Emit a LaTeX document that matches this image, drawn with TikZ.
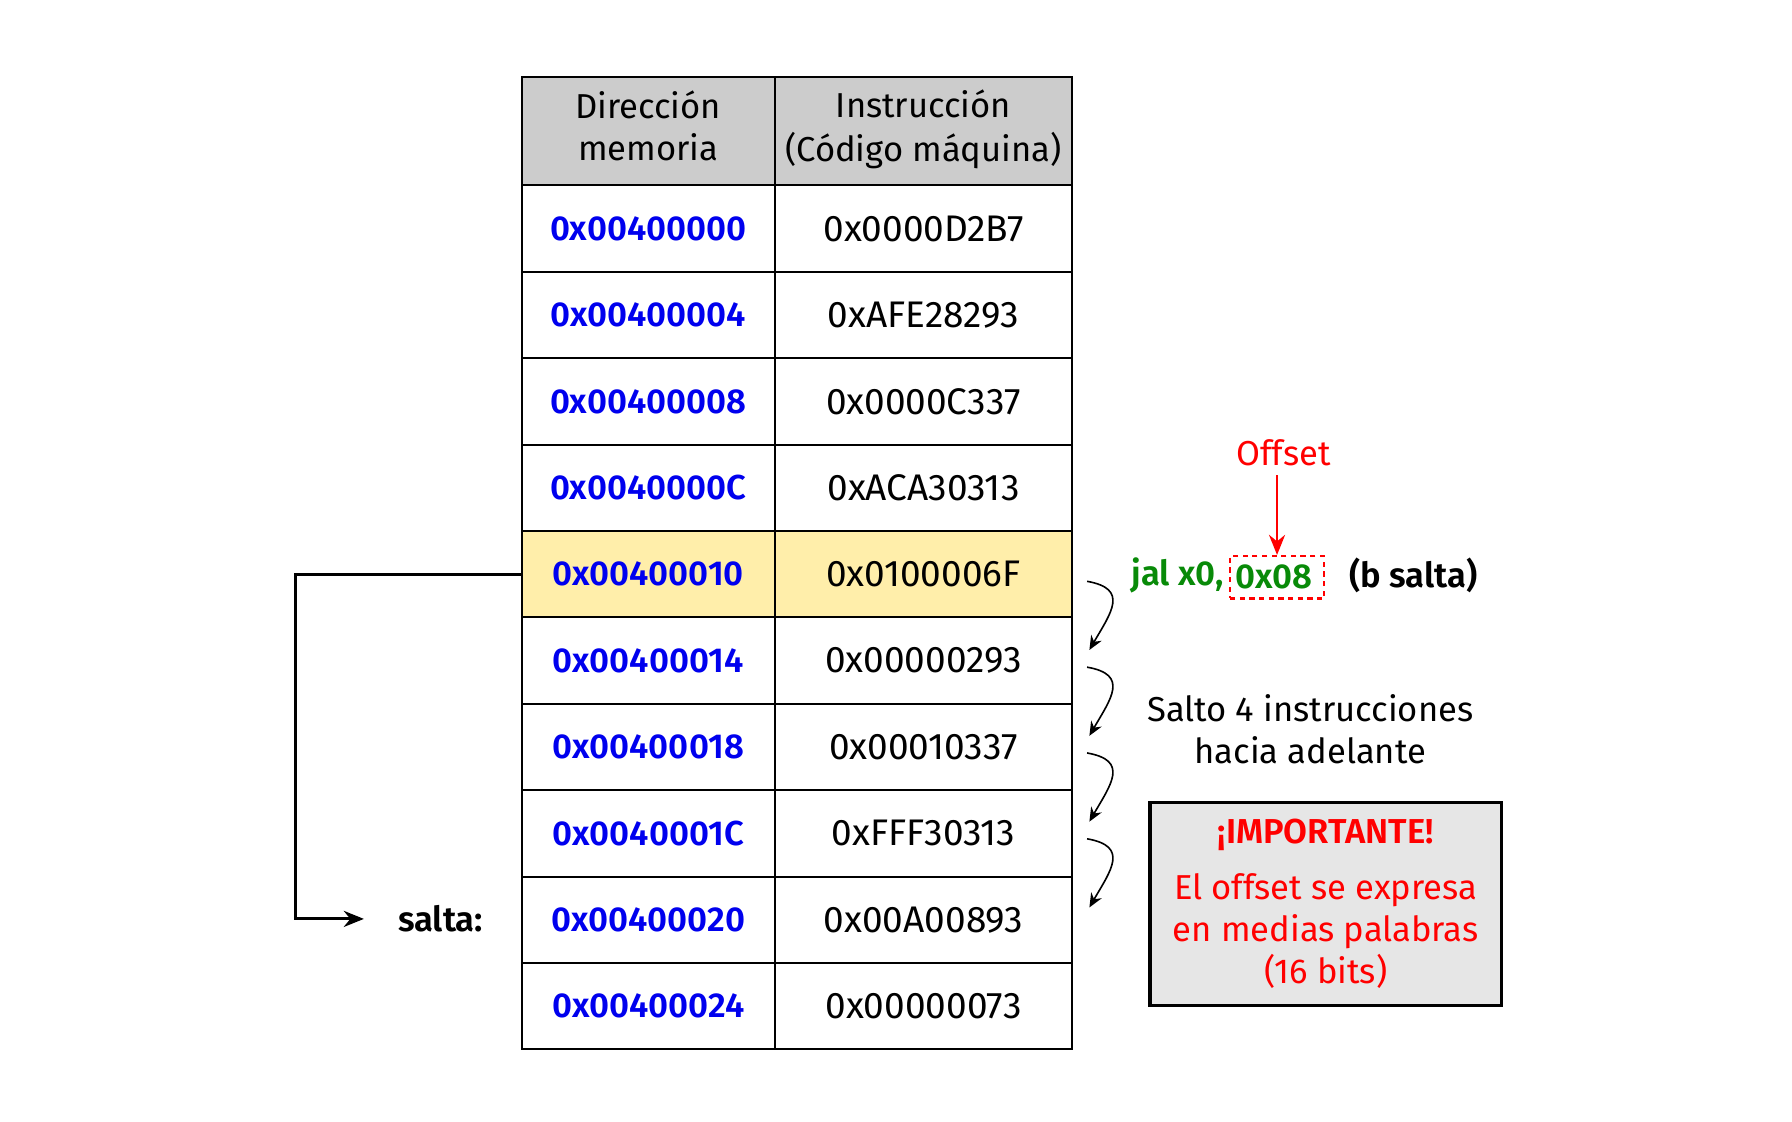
\documentclass[tikz,border=0pt]{standalone}
\usepackage{fontspec}
\setmainfont{Fira Sans}[BoldFont={Fira Sans SemiBold}]
\usetikzlibrary{arrows.meta}
\definecolor{addrblue}{HTML}{0000EE}
\definecolor{jalgreen}{HTML}{088A08}
\definecolor{headgray}{HTML}{CCCCCC}
\definecolor{notegray}{HTML}{E6E6E6}
\definecolor{hlyellow}{HTML}{FFEEAA}
\newcommand{\diagfont}{\fontsize{8.6pt}{10.5pt}\selectfont}
\newcommand{\codefont}{\fontsize{9.2pt}{11pt}\selectfont}
\begin{document}
\begin{tikzpicture}
[cellbox/.style={shape=rectangle,draw,line width=0.5pt,minimum height=0.755cm,inner sep=0pt},%
  headcell/.style={cellbox,fill=headgray,minimum height=0.95cm,align=center,font=\diagfont},%
  addrcell/.style={cellbox,minimum width=2.21cm,text=addrblue,font=\diagfont\bfseries},%
  codecell/.style={cellbox,minimum width=2.60cm,font=\codefont},%
  plaintext/.style={inner sep=0pt,font=\diagfont},%
  boldtext/.style={inner sep=0pt,font=\diagfont\bfseries},%
  offsetbox/.style={draw=red,dash pattern=on 1.3pt off 1.1pt,line width=0.6pt,text=jalgreen,
    font=\diagfont\bfseries,text width=0.72cm,align=left,inner xsep=0.05cm,minimum height=0.37cm,inner ysep=0pt},%
  notebox/.style={draw,line width=0.8pt,fill=notegray,text=red,font=\diagfont,align=center,
    minimum width=3.07cm,minimum height=1.78cm,inner sep=0pt},%
  jumparrow/.style={-{Stealth[length=5pt,width=4pt]},line width=0.75pt},%
  steparc/.style={-{Stealth[length=3.5pt,width=3pt]},line width=0.4pt},%
  offsetarrow/.style={-{Stealth[length=5pt,width=4pt]},red,line width=0.6pt}]
\useasboundingbox (0,0) rectangle (15.66,-9.80);
%% header
\node (h1) at (5.665,-1.145) [headcell,minimum width=2.21cm] {\raisebox{0.09cm}{\shortstack{Dirección\\[0.02cm]memoria}}};
\node (h2) at (8.07,-1.145) [headcell,minimum width=2.60cm] {\raisebox{0.09cm}{\shortstack{Instrucción\\[0.02cm](Código máquina)}}};
%% memory rows
\foreach \row/\addr/\code/\bg in {1/0x00400000/0x0000D2B7/white, 2/0x00400004/0xAFE28293/white,
  3/0x00400008/0x0000C337/white, 4/0x0040000C/0xACA30313/white, 5/0x00400010/0x0100006F/hlyellow,
  6/0x00400014/0x00000293/white, 7/0x00400018/0x00010337/white, 8/0x0040001C/0xFFF30313/white,
  9/0x00400020/0x00A00893/white, 10/0x00400024/0x00000073/white} {
  \node (a\row) at (5.665,{-(1.62+0.755*(\row-0.5))}) [addrcell,fill=\bg] {\addr};
  \node (c\row) at (8.07,{-(1.62+0.755*(\row-0.5))}) [codecell,fill=\bg] {\code};
}
%% jump to label
\node (salta) at (3.85,-8.03) [boldtext] {salta:};
\coordinate (corner) at (2.58,-8.03);
\coordinate (target) at (3.18,-8.03);
\draw[jumparrow] (a5.west) -| (corner) -- (target);
%% instruction and offset
\node (jal) at (10.70,-5.03) [boldtext,anchor=east,text=jalgreen] {jal x0,};
\node (imm) at (11.16,-5.045) [offsetbox] {0x08};
\node (bsalta) at (12.35,-5.03) [boldtext] {(b salta)};
\node (offset) at (11.215,-3.96) [plaintext,text=red,inner sep=2pt] {Offset};
\draw[offsetarrow] (offset.south -| imm.north) -- (imm.north);
%% steps forward
\foreach \i in {0,...,3} {
  \coordinate (arcs\i) at (9.50,{-(5.08+0.75*\i)});
  \coordinate (arce\i) at (9.52,{-(5.68+0.75*\i)});
  \draw[steparc] (arcs\i) to[out=-10,in=60,looseness=1.6] (arce\i);
}
\node (salto) at (11.45,-6.375) [plaintext,align=center] {Salto 4 instrucciones\\hacia adelante};
%% note
\node (note) at (11.585,-7.90) [notebox] {\textbf{¡IMPORTANTE!}\\[0.12cm]El offset se expresa\\en medias palabras\\(16 bits)};
\end{tikzpicture}
\end{document}
